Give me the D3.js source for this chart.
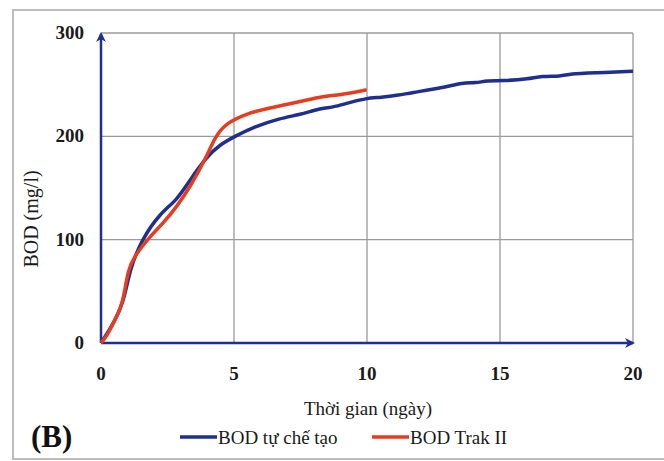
<!DOCTYPE html>
<html>
  <head>
    <style>
    body {
      margin: 0;
      background: #fff;
    }
    </style>
  </head>
  <body>
    <script src="https://d3js.org/d3.v7.min.js"></script>
    <script>
    var width = 664, height = 461;
    var serif = "'Liberation Serif', 'DejaVu Serif', 'Times New Roman', serif";

    // series
    var blueDays = [0, 0.2, 0.46, 0.84, 1.09, 1.53, 2.22, 2.85, 3.35, 3.97, 4.47, 5.04, 5.73, 6.73, 7.48, 8.23, 8.7, 9.24, 9.99, 10.5, 11.24, 11.6, 12.85, 13.6, 14.1, 14.5, 15.1, 16.1, 16.55, 17.3, 17.6, 18.6, 20];
    var blueBod  = [0, 8, 19, 38, 72, 100, 125.6, 138, 158, 180, 192, 200, 209, 217.5, 221, 227, 228, 232, 237, 237.5, 240, 242, 247, 252, 251.5, 254, 253.6, 255.6, 258.5, 258, 260.5, 261.5, 263];

    var redDays = [0, 0.2, 0.46, 0.84, 1.0, 1.34, 1.84, 2.34, 2.85, 3.35, 3.97, 4.29, 4.72, 5.48, 6.23, 7.23, 8.23, 8.98, 9.99];
    var redBod  = [0, 6, 19, 38, 72, 87, 103, 116, 132, 151, 180, 200, 213, 222, 227, 232, 238.5, 240, 245];

    var xTicks = [0, 5, 10, 15, 20];
    var yTicks = [0, 100, 200, 300];

    var seriesNames = ["BOD tự chế tạo", "BOD Trak II"];
    var seriesColors = ["#1f2f8e", "#e43d1f"];

    var x = d3.scaleLinear().domain([0, 20]).range([101, 633]);
    var y = d3.scaleLinear().domain([0, 300]).range([343, 33]);

    var svg = d3.select("body").append("svg")
        .attr("width", width)
        .attr("height", height)
        .attr("font-family", serif);

    // outer frame
    svg.append("rect")
        .attr("x", 13).attr("y", 10)
        .attr("width", 660).attr("height", 449)
        .attr("fill", "none")
        .attr("stroke", "#bcbcbc")
        .attr("stroke-width", 2);

    // grid
    svg.append("g").selectAll("line")
        .data(yTicks.filter(function(d){ return d > 0; }))
        .enter().append("line")
        .attr("x1", x(0)).attr("x2", x(20))
        .attr("y1", function(d){ return y(d); })
        .attr("y2", function(d){ return y(d); })
        .attr("stroke", "#9a9a9a").attr("stroke-width", 1.3);

    svg.append("g").selectAll("line")
        .data(xTicks.filter(function(d){ return d > 0; }))
        .enter().append("line")
        .attr("x1", function(d){ return x(d); })
        .attr("x2", function(d){ return x(d); })
        .attr("y1", y(0)).attr("y2", y(300))
        .attr("stroke", "#9a9a9a").attr("stroke-width", 1.3);

    // tick labels
    svg.append("g").selectAll("text")
        .data(yTicks).enter().append("text")
        .attr("x", 84)
        .attr("y", function(d){ return y(d) + 6; })
        .attr("text-anchor", "end")
        .attr("font-size", 19)
        .attr("font-weight", "bold")
        .attr("fill", "#1a1a1a")
        .text(function(d){ return d; });

    svg.append("g").selectAll("text")
        .data(xTicks).enter().append("text")
        .attr("x", function(d){ return x(d); })
        .attr("y", 380)
        .attr("text-anchor", "middle")
        .attr("font-size", 19)
        .attr("font-weight", "bold")
        .attr("fill", "#1a1a1a")
        .text(function(d){ return d; });

    // axes with arrows
    var defs = svg.append("defs");
    defs.append("marker")
        .attr("id", "arrow")
        .attr("viewBox", "0 0 10 10")
        .attr("refX", 8).attr("refY", 5)
        .attr("markerWidth", 4).attr("markerHeight", 4)
        .attr("orient", "auto")
      .append("path")
        .attr("d", "M0,0 L10,5 L0,10 L3,5 Z")
        .attr("fill", "#1f2f8e");

    svg.append("line")
        .attr("x1", x(0)).attr("y1", y(0))
        .attr("x2", x(0)).attr("y2", y(300) + 1)
        .attr("stroke", "#1f2f8e").attr("stroke-width", 2.5)
        .attr("marker-end", "url(#arrow)");

    svg.append("line")
        .attr("x1", x(0)).attr("y1", y(0))
        .attr("x2", x(20)).attr("y2", y(0))
        .attr("stroke", "#1f2f8e").attr("stroke-width", 2.5)
        .attr("marker-end", "url(#arrow)");

    // lines
    var line = d3.line()
        .x(function(d){ return x(d[0]); })
        .y(function(d){ return y(d[1]); })
        .curve(d3.curveBasis);

    var blue = d3.zip(blueDays, blueBod);
    var red = d3.zip(redDays, redBod);

    svg.append("path").datum(blue)
        .attr("d", line)
        .attr("fill", "none")
        .attr("stroke", seriesColors[0])
        .attr("stroke-width", 3.5)
        .attr("stroke-linejoin", "round");

    svg.append("path").datum(red)
        .attr("d", line)
        .attr("fill", "none")
        .attr("stroke", seriesColors[1])
        .attr("stroke-width", 3.5)
        .attr("stroke-linejoin", "round");

    // titles
    svg.append("text")
        .attr("x", 368).attr("y", 415)
        .attr("text-anchor", "middle")
        .attr("font-size", 19)
        .attr("fill", "#1a1a1a")
        .text("Thời gian (ngày)");

    svg.append("text")
        .attr("transform", "translate(38,219) rotate(-90)")
        .attr("text-anchor", "middle")
        .attr("font-size", 20)
        .attr("fill", "#1a1a1a")
        .text("BOD (mg/l)");

    svg.append("text")
        .attr("x", 31).attr("y", 447)
        .attr("font-size", 31)
        .attr("font-weight", "bold")
        .attr("fill", "#111")
        .text("(B)");

    // legend
    var legendX = [180, 372];
    var lg = svg.append("g").selectAll("g")
        .data(seriesNames).enter().append("g")
        .attr("transform", function(d, i){ return "translate(" + legendX[i] + ",437)"; });

    lg.append("line")
        .attr("x1", 0).attr("x2", 37)
        .attr("stroke", function(d, i){ return seriesColors[i]; })
        .attr("stroke-width", 3.5);

    lg.append("text")
        .attr("x", 38).attr("y", 7)
        .attr("font-size", 19)
        .attr("fill", "#1a1a1a")
        .text(function(d){ return d; });
    </script>
  </body>
</html>
